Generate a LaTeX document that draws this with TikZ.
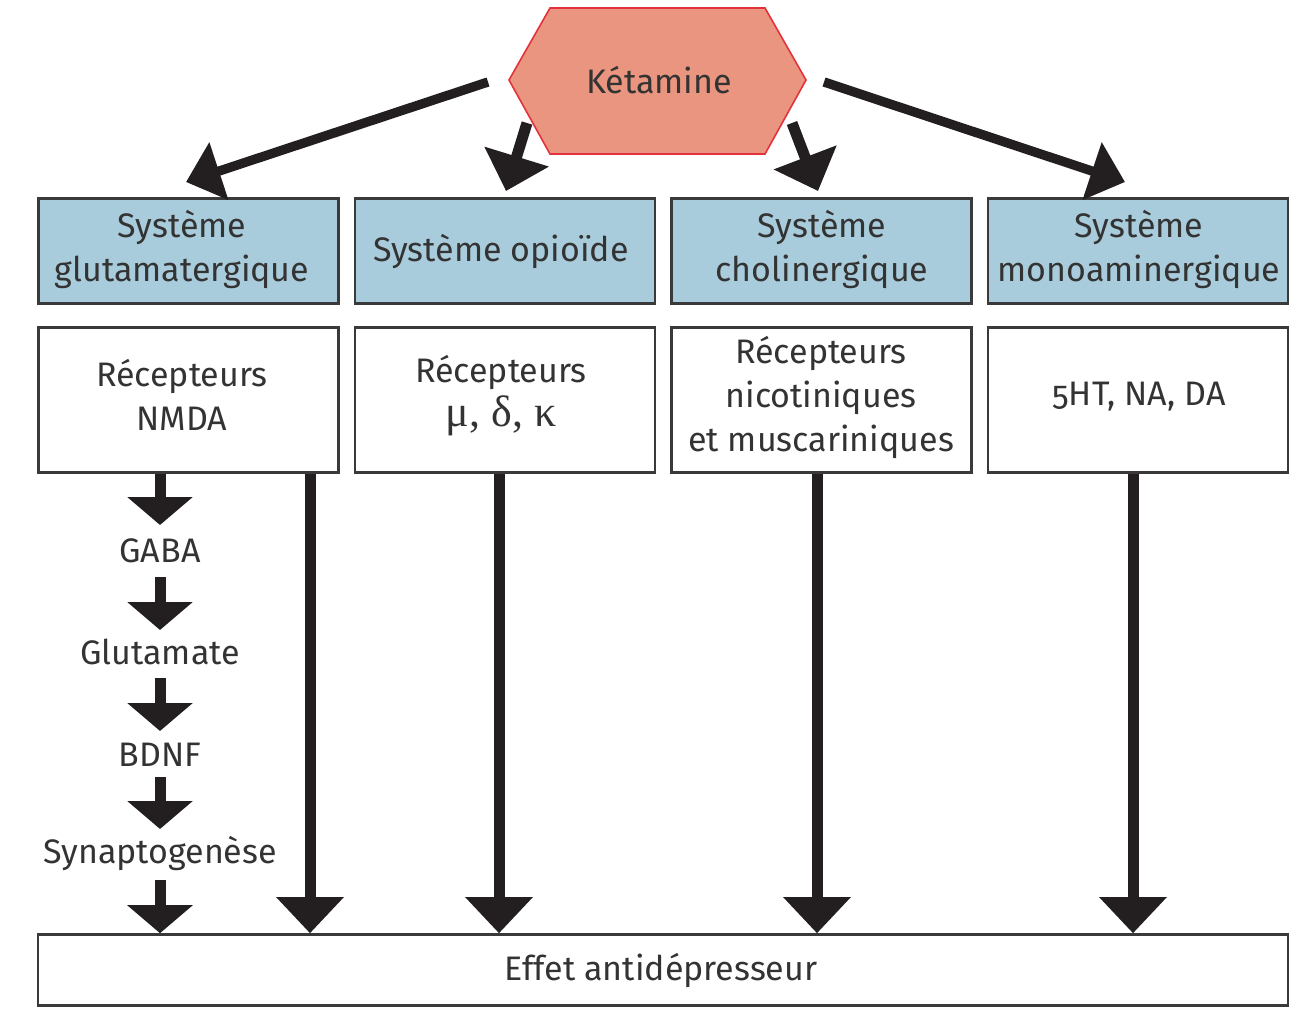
\documentclass[tikz,border=0pt]{standalone}
\usepackage{fontspec}
\setmainfont{Fira Sans}[Numbers=OldStyle]
\newfontfamily\grk{Liberation Serif}
\usetikzlibrary{arrows.meta}
\definecolor{txt}{HTML}{333333}
\definecolor{bluefill}{HTML}{A9CCDC}
\definecolor{salmon}{HTML}{E9957F}
\definecolor{hexred}{HTML}{E3323C}
\definecolor{boxline}{HTML}{3A3A3A}
\definecolor{arr}{HTML}{231F20}
\begin{document}
\begin{tikzpicture}[x=0.75pt,y=-0.75pt,
  font=\fontsize{25.5}{33}\selectfont, text=txt,
  sysbox/.style={draw=boxline, line width=1.9pt, fill=bluefill, minimum width=300*0.75pt, minimum height=105*0.75pt, inner sep=0pt, align=center},
  recbox/.style={draw=boxline, line width=1.9pt, fill=white, minimum width=300*0.75pt, minimum height=145*0.75pt, inner sep=0pt, align=center},
  bigarrow/.style={draw=arr, line width=8.25pt, -{Triangle[width=49pt,length=27pt]}},
  diagarrow/.style={draw=arr, line width=7pt, -{Triangle[width=44pt,length=26pt]}},
  smallarrow/.style={draw=arr, line width=8.25pt, -{Triangle[width=48pt,length=21pt]}},
  lbl/.style={inner sep=0pt},
  txtnode/.style={inner sep=0pt, align=center}
]
\useasboundingbox (0,0) rectangle (1289,1025);
% hexagon
\draw[draw=hexred, line width=1.2pt, fill=salmon] (509,80) -- (550,8) -- (765,8) -- (806,80) -- (765,154) -- (550,154) -- cycle;
\node[lbl] (ket) at (659,80) {Kétamine};
% system boxes
\node[sysbox] (s1) at (188.5,251) {};
\node[sysbox] (s2) at (505,251) {};
\node[sysbox] (s3) at (821.5,251) {};
\node[sysbox] (s4) at (1138,251) {};
\node[txtnode] (s1t) at (182,249) {Système\\glutamatergique};
\node[txtnode] (s2t) at (501,251) {Système opioïde};
\node[txtnode] (s3t) at (822,249) {Système\\cholinergique};
\node[txtnode] (s4t) at (1139,249) {Système\\monoaminergique};
% receptor boxes
\node[recbox] (r1) at (188.5,400) {};
\node[recbox] (r2) at (505,400) {};
\node[recbox] (r3) at (821.5,400) {};
\node[recbox] (r4) at (1138,400) {};
\node[txtnode] (r1t) at (182,395) {Récepteurs\\NMDA};
\node[txtnode] (r2t) at (501,396) {Récepteurs\\{\grk\fontsize{33}{33}\selectfont μ, δ, κ}};
\node[txtnode] (r3t) at (821,397) {Récepteurs\\nicotiniques\\et muscariniques};
\node[txtnode] (r4t) at (1139,397) {5HT, NA, DA};
% effect box
\node[draw=boxline, line width=1.9pt, fill=white, minimum width=1250*0.75pt, minimum height=71*0.75pt, inner sep=0pt] (eff) at (663,970) {};
\node[lbl] (efft) at (661,970) {Effet antidépresseur};
% chain labels
\node[lbl] (gaba) at (160,551) {GABA};
\node[lbl] (glu) at (160,652) {Glutamate};
\node[lbl] (bdnf) at (160,755) {BDNF};
\node[lbl] (syn) at (160,853) {Synaptogenèse};
% arrow start coordinates
\coordinate (k1) at (488,82);
\coordinate (k2) at (527,123);
\coordinate (k3) at (792,123);
\coordinate (k4) at (824,82);
\coordinate (t1) at (186,182);
\coordinate (t2) at (506,191);
\coordinate (t3) at (818,191);
\coordinate (t4) at (1125,182);
\draw[diagarrow] (k1) -- (t1);
\draw[bigarrow] (k2) -- (t2);
\draw[bigarrow] (k3) -- (t3);
\draw[diagarrow] (k4) -- (t4);
% vertical arrows to effect
\draw[bigarrow] (r1.south -| 310,0) -- (eff.north -| 310,0);
\draw[bigarrow] (r2.south -| 499,0) -- (eff.north -| 499,0);
\draw[bigarrow] (r3.south -| 817,0) -- (eff.north -| 817,0);
\draw[bigarrow] (r4.south -| 1133,0) -- (eff.north -| 1133,0);
% chain
\draw[smallarrow] (r1.south -| 160,0) -- (160,525);
\draw[smallarrow] (160,577) -- (160,630);
\draw[smallarrow] (160,678) -- (160,731);
\draw[smallarrow] (160,777) -- (160,829);
\draw[smallarrow] (160,880) -- (eff.north -| 160,0);
\end{tikzpicture}
\end{document}
